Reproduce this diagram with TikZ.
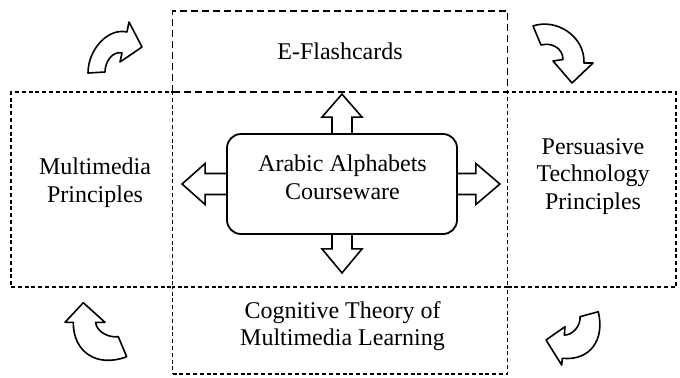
\documentclass[tikz,border=0pt]{standalone}
\usepackage{fontspec}
\setmainfont{Liberation Serif}
\usetikzlibrary{calc}
\begin{document}
\begin{tikzpicture}[x=0.5pt,y=-0.5pt,
  dlong/.style={draw, line width=0.6pt, dash pattern=on 3.5pt off 2pt, inner sep=0pt, rectangle},
  dshort/.style={draw, line width=0.6pt, dash pattern=on 2pt off 1.4pt, inner sep=0pt, rectangle},
  lbl/.style={align=center, font=\fontsize{12}{13.8}\selectfont, inner sep=0pt},
  corebox/.style={draw, line width=0.9pt, rounded corners=7pt, minimum width=115pt, minimum height=50pt, inner sep=0pt},
  blk/.style={draw, line width=0.8pt, line join=miter},
  curv/.style={draw, line width=0.8pt, line join=round}]
\useasboundingbox (0,0) rectangle (680,377);

% dashed regions
\node[dshort, minimum width=80.75pt, minimum height=97.5pt] (leftbox) at (91.75,189.5) {};
\node[dshort, minimum width=84.25pt, minimum height=97.5pt] (rightbox) at (591.75,189.5) {};
\node[dshort, minimum width=167.5pt, minimum height=43.5pt] (bottombox) at (340,330.5) {};
\node[dlong, minimum width=167.5pt, minimum height=40.5pt] (topbox) at (340,51.5) {};

% labels
\node[lbl] (flash) at (340,51) {E-Flashcards};
\node[lbl] (multi) at (95,182.6) {Multimedia\\Principles};
\node[lbl] (persu) at (593,176.4) {Persuasive\\Technology\\Principles};
\node[lbl] (cogn) at (342.5,326.3) {Cognitive Theory of\\Multimedia Learning};

% core
\node[corebox] (core) at (342,184) {};
\node[lbl] (coretext) at (342.5,177) {Arabic Alphabets\\Courseware};

% block arrows
\draw[blk] ($(core.north)+(-10,0)$) -- ++(0,-16) -- ++(-10,0) -- ($(core.north)+(0,-39)$)
  -- ($(core.north)+(20,-16)$) -- ++(-10,0) -- ($(core.north)+(10,0)$);
\draw[blk] ($(core.south)+(-10,0)$) -- ++(0,14) -- ++(-10,0) -- ($(core.south)+(0,38)$)
  -- ($(core.south)+(20,14)$) -- ++(-10,0) -- ($(core.south)+(10,0)$);
\draw[blk] ($(core.west)+(0,-10.5)$) -- ++(-21,0) -- ++(0,-10) -- ($(core.west)+(-44,0)$)
  -- ($(core.west)+(-21,20.5)$) -- ++(0,-10) -- ($(core.west)+(0,10.5)$);
\draw[blk] ($(core.east)+(0,-10.5)$) -- ++(18,0) -- ++(0,-10) -- ($(core.east)+(42,0)$)
  -- ($(core.east)+(18,20.5)$) -- ++(0,-10) -- ($(core.east)+(0,10.5)$);

% curved arrows
% top-left
\draw[curv] (88,73) .. controls (88,50) and (107.5,27.6) .. (127,32)
  -- (129,22) -- (142,47) -- (120,62) -- (122,53)
  .. controls (112.2,50.8) and (105,62) .. (105,72) -- cycle;
% top-right
\draw[curv] (533,26) .. controls (556,18) and (585,36) .. (584,63)
  -- (593,63) -- (572,83) -- (553,61) -- (563,59.5)
  .. controls (563,48) and (551.3,42.1) .. (541,45) -- cycle;
% bottom-left
\draw[curv] (73.3,322.3) .. controls (73,352) and (97,368) .. (126.7,356.7)
  -- (118.3,336.7) .. controls (108,338) and (96,331) .. (95.7,322.3)
  -- (105,322.3) -- (83.3,302.7) -- (65,322.3) -- cycle;
% bottom-right
\draw[curv] (562.3,358.3) .. controls (590,361) and (605,340) .. (598.3,311.7)
  -- (580,316.7) .. controls (581,326) and (572,335.5) .. (564.3,335)
  -- (565,326.7) -- (546,340) -- (561.7,365) -- cycle;
\end{tikzpicture}
\end{document}
